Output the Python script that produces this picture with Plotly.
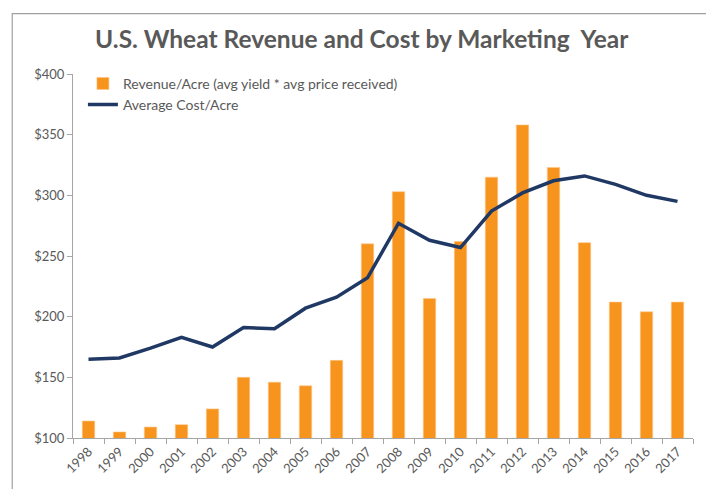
import plotly.graph_objects as go

years = [str(y) for y in range(1998, 2018)]
revenue = [114, 105, 109, 111, 124, 150, 146, 143, 164, 260,
           303, 215, 262, 315, 358, 323, 261, 212, 204, 212]
cost = [165, 166, 174, 183, 175, 191, 190, 207, 216, 232,
        277, 263, 257, 287, 302, 312, 316, 309, 300, 295]

TEXT = "#595959"
AXIS = "#A6A6A6"

fig = go.Figure()
fig.add_trace(go.Bar(
    x=years, y=revenue, name="Revenue/Acre (avg yield * avg price received)",
    marker=dict(color="#F7941D", line=dict(color="#FBC68A", width=0.6)),
))
fig.add_trace(go.Scatter(
    x=years, y=cost, name="Average Cost/Acre", mode="lines",
    line=dict(color="#1F3864", width=3.5),
))

# page body adds an 8px margin, so the figure is 8px smaller
fig.update_layout(
    width=706, height=481,
    margin=dict(l=65, r=21, t=66, b=51),
    paper_bgcolor="white", plot_bgcolor="white",
    font=dict(family="Lato, Open Sans, sans-serif", color=TEXT, size=13),
    title=dict(text="<b>U.S. Wheat Revenue and Cost by Marketing  Year</b>",
               x=0.501, xanchor="center", y=0.934, yanchor="middle",
               font=dict(size=24.5, color=TEXT)),
    bargap=0.6,
    showlegend=True,
    legend=dict(x=0.016, y=1.017, xanchor="left", yanchor="top",
                bgcolor="rgba(0,0,0,0)", font=dict(size=14, color=TEXT),
                tracegroupgap=0, itemwidth=30),
    shapes=[dict(type="rect", xref="paper", yref="paper",
                 x0=-0.098, x1=1.029, y0=-0.3, y1=1.166,
                 line=dict(color="#A0A0A0", width=1.2))],
)
fig.update_yaxes(range=[100, 400], dtick=50, tickprefix="$", tickformat=",d",
                 showgrid=False, showline=True, linecolor=AXIS, linewidth=1,
                 ticks="outside", ticklen=5, tickcolor=AXIS, zeroline=False,
                 tickfont=dict(size=13, color=TEXT))
fig.update_xaxes(type="category", tickangle=-45, showgrid=False, showline=True,
                 linecolor=AXIS, linewidth=1, ticks="outside", ticklen=5,
                 tickcolor=AXIS, tickson="boundaries",
                 tickfont=dict(size=13, color=TEXT))

fig.write_html("out.html")
